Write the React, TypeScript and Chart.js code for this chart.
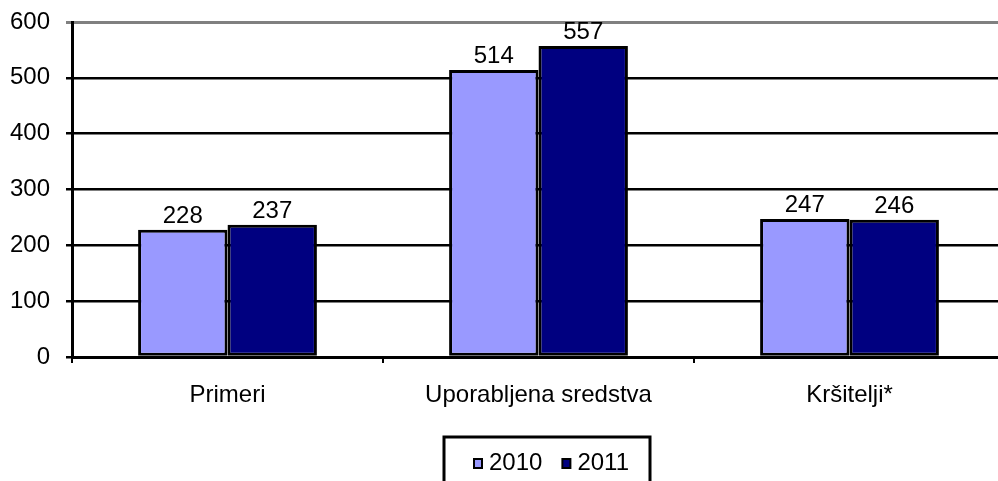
import React, { useEffect, useRef } from "react";
import { Chart, registerables } from "chart.js";

Chart.register(...registerables);

const categories = ["Primeri", "Uporabljena sredstva", "Kršitelji*"];
const series2010 = [228, 514, 247];
const series2011 = [237, 557, 246];
const seriesLabels = ["2010", "2011"];
const yTicks = [0, 100, 200, 300, 400, 500, 600];

const FONT = "'Liberation Sans', Arial, sans-serif";
const FS = 24;

const valueLabels = {
  id: "valueLabels",
  afterDatasetsDraw(chart: any) {
    const ctx = chart.ctx;
    ctx.save();
    ctx.font = `${FS}px ${FONT}`;
    ctx.fillStyle = "#000";
    ctx.textAlign = "center";
    ctx.textBaseline = "alphabetic";
    chart.data.datasets.forEach((ds: any, i: number) => {
      const meta = chart.getDatasetMeta(i);
      meta.data.forEach((bar: any, j: number) => {
        ctx.fillText(String(ds.data[j]), bar.x, bar.y - 7);
      });
    });
    ctx.restore();
  },
};

const boxLegend = {
  id: "boxLegend",
  afterDraw(chart: any) {
    const ctx = chart.ctx;
    ctx.save();
    const left = 444;
    const top = 437;
    const width = 206;
    ctx.lineWidth = 3;
    ctx.strokeStyle = "#000";
    ctx.strokeRect(left, top, width, 60);
    ctx.font = `${FS}px ${FONT}`;
    ctx.textBaseline = "alphabetic";
    ctx.textAlign = "left";
    let x = left + 29;
    const sqTop = 458;
    chart.data.datasets.forEach((ds: any) => {
      ctx.fillStyle = "#000";
      ctx.fillRect(x, sqTop, 10, 11);
      ctx.fillStyle = ds.backgroundColor;
      ctx.fillRect(x + 2, sqTop + 2, 6, 7);
      ctx.fillStyle = "#000";
      ctx.fillText(ds.label, x + 16, 470);
      x += 16 + ctx.measureText(ds.label).width + 19;
    });
    ctx.restore();
  },
};

export default function App() {
  const ref = useRef<HTMLCanvasElement>(null);
  useEffect(() => {
    if (!ref.current) return;
    const chart = new Chart(ref.current, {
      type: "bar",
      data: {
        labels: categories,
        datasets: [
          {
            label: seriesLabels[0],
            data: series2010,
            backgroundColor: "#9999FF",
            borderColor: "#000",
            borderWidth: 3,
            borderSkipped: false,
            categoryPercentage: 0.575,
            barPercentage: 1,
          },
          {
            label: seriesLabels[1],
            data: series2011,
            backgroundColor: "#000080",
            borderColor: "#000",
            borderWidth: 3,
            borderSkipped: false,
            categoryPercentage: 0.575,
            barPercentage: 1,
          },
        ],
      },
      options: {
        animation: false,
        responsive: false,
        maintainAspectRatio: false,
        layout: { padding: { top: 22, right: 0, bottom: 0, left: 0 } },
        plugins: {
          legend: { display: false },
          tooltip: { enabled: false },
        },
        scales: {
          x: {
            afterFit(scale: any) {
              scale.height = 124;
              scale.paddingLeft = 0;
              scale.paddingRight = 0;
            },
            grid: {
              offset: true,
              drawOnChartArea: false,
              color: "#000",
              lineWidth: 2,
              tickLength: 6,
            },
            border: { color: "#000", width: 3 },
            ticks: {
              color: "#000",
              font: { family: FONT, size: FS },
              padding: 18,
              maxRotation: 0,
            },
          },
          y: {
            min: 0,
            max: 600,
            afterFit(scale: any) {
              scale.width = 72;
              scale.paddingTop = 0;
              scale.paddingBottom = 0;
            },
            afterBuildTicks(scale: any) {
              scale.ticks = yTicks.map((v) => ({ value: v }));
            },
            grid: {
              color: (c: any) => (c.tick && c.tick.value === 600 ? "#808080" : "#000"),
              lineWidth: (c: any) => (c.tick && c.tick.value === 600 ? 3 : 2.5),
              tickLength: 6,
            },
            border: { color: "#000", width: 3 },
            ticks: {
              color: "#000",
              font: { family: FONT, size: FS },
              padding: 16,
            },
          },
        },
      },
      plugins: [valueLabels, boxLegend],
    });
    return () => chart.destroy();
  }, []);
  return (
    <div style={{ position: "fixed", left: 0, top: 0, width: 998, height: 481, background: "#fff", overflow: "hidden" }}>
      <canvas ref={ref} width={1005} height={481} style={{ display: "block" }} />
    </div>
  );
}
